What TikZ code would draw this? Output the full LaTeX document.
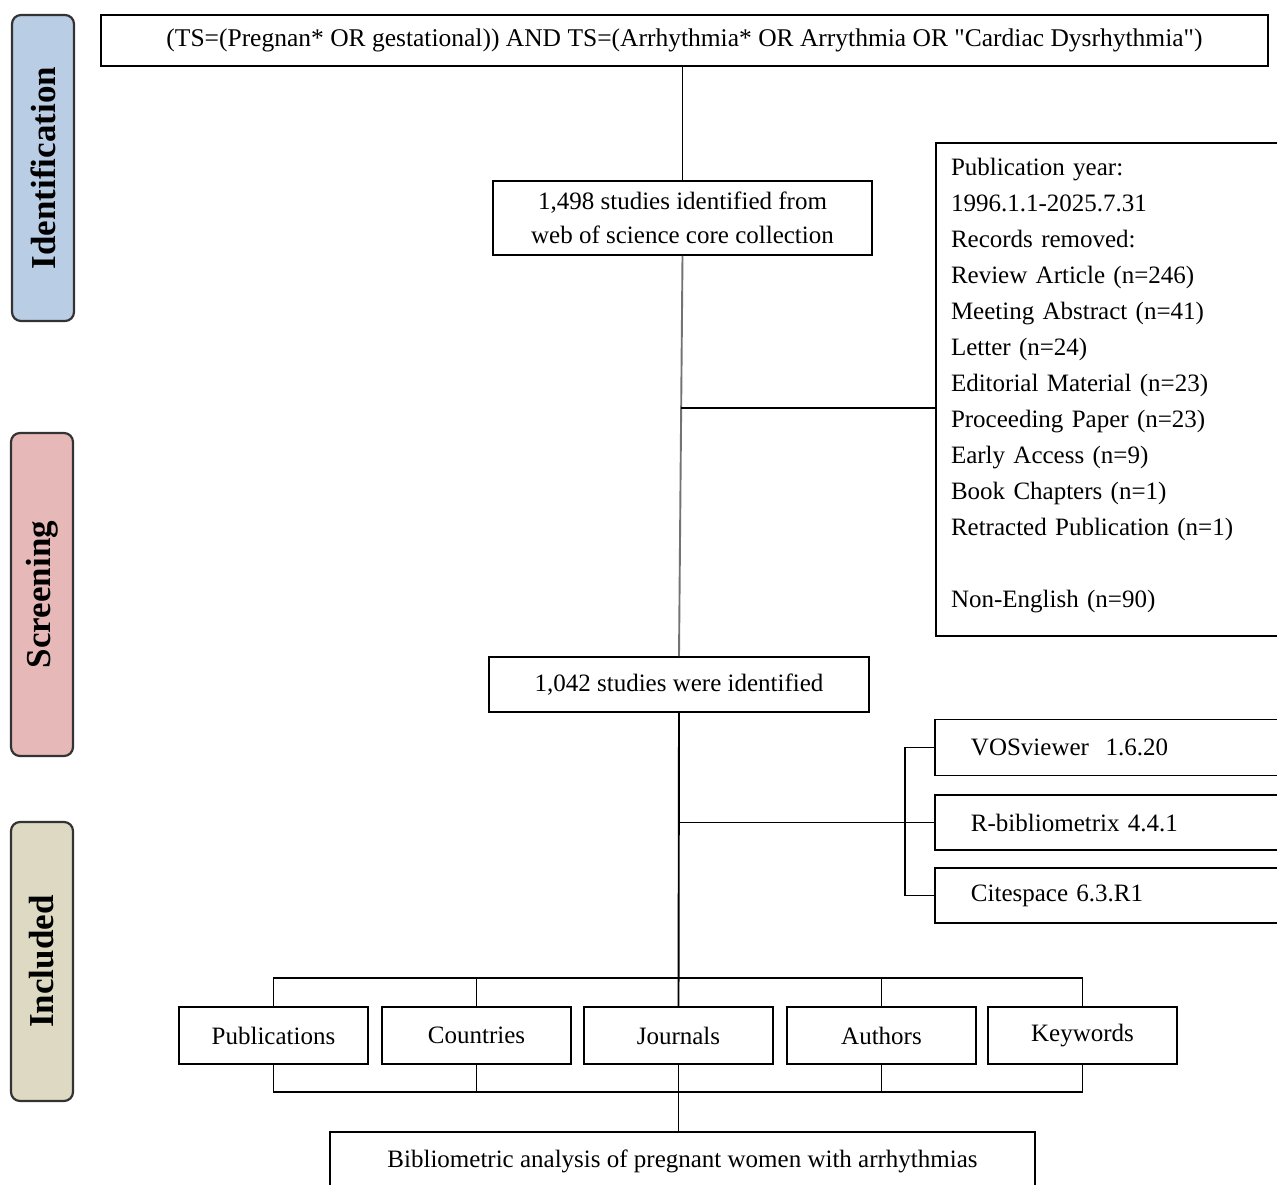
\documentclass[tikz,border=0pt]{standalone}
\usepackage{fontspec}
\setmainfont{Liberation Serif}
\definecolor{tabblue}{HTML}{B9CDE5}
\definecolor{tabpink}{HTML}{E6B9B8}
\definecolor{tabtan}{HTML}{DDD9C3}
\begin{document}
\begin{tikzpicture}[x=1pt,y=-1pt,
  box/.style={draw=black, line width=1.9pt, inner sep=0pt, font=\fontsize{25}{34}\selectfont, align=center},
  toolbox/.style={box, align=left, inner xsep=36pt, text width=284pt, minimum width=356pt, minimum height=56pt, anchor=west},
  smallbox/.style={box, minimum width=189pt, minimum height=57pt},
  tab/.style={draw=black!80, line width=2.2pt, rounded corners=9pt, rotate=90, inner sep=0pt, minimum height=62pt, font=\fontsize{35}{40}\selectfont\bfseries},
  conn/.style={line width=1.9pt, black}]
\path[use as bounding box] (0,0) rectangle (1277,1184);
\clip (0,0) rectangle (1277,1184);

% phase tabs
\node[tab, fill=tabblue, minimum width=306pt] (tabI) at (43,168) {Identification};
\node[tab, fill=tabpink, minimum width=323pt] (tabS) at (42,594.5) {Screening};
\node[tab, fill=tabtan, minimum width=279pt] (tabC) at (42,961.5) {Included};

% main flow
\node[box, minimum width=1167pt, minimum height=51pt, font=\fontsize{25.5}{34}\selectfont] (query) at (684.5,40.5)
  {(TS=(Pregnan* OR gestational)) AND TS=(Arrhythmia* OR Arrythmia OR \textquotedbl Cardiac Dysrhythmia\textquotedbl)};
\node[box, minimum width=379pt, minimum height=74pt] (ident) at (682.5,218)
  {1,498 studies identified from\\web of science core collection};
\node[box, minimum width=354pt, minimum height=493pt, align=left, inner xsep=15pt, text width=324pt,
      font=\fontsize{25}{36}\selectfont] (removed) at (1113,389.5)
  {Publication year:\\1996.1.1-2025.7.31\\Records removed:\\Review Article (n=246)\\Meeting Abstract (n=41)\\Letter (n=24)\\Editorial Material (n=23)\\Proceeding Paper (n=23)\\Early Access (n=9)\\Book Chapters (n=1)\\Retracted Publication (n=1)\\[36pt]Non-English (n=90)\rule[-13pt]{0pt}{1pt}};
\node[box, minimum width=380pt, minimum height=55pt] (kept) at (679,684.5) {1,042 studies were identified};

% tools
\node[toolbox] (vos) at (934,747.5) {VOSviewer\ \ 1.6.20};
\node[toolbox, minimum height=55pt] (rbib) at (934,822.5) {R-bibliometrix 4.4.1};
\node[toolbox, minimum height=55pt] (cite) at (934,895.5) {Citespace 6.3.R1};

% analysis boxes
\node[smallbox] (pub) at (273.5,1035.5) {Publications};
\node[smallbox] (cou) at (476.5,1035.5) {Countries};
\node[smallbox] (jou) at (678.5,1035.5) {Journals};
\node[smallbox] (aut) at (881.5,1035.5) {Authors};
\node[smallbox] (key) at (1082.5,1035.5) {Keywords};

\node[box, minimum width=705pt, minimum height=58pt] (final) at (682.5,1161)
  {Bibliometric analysis of pregnant women with arrhythmias};

% connectors
\draw[conn] (ident.north |- query.south) -- (ident.north);
\draw[conn, black!55] (ident.south) -- (kept.north);
\coordinate (br1) at (681,408);
\draw[conn] (br1) -- (br1 -| removed.west);

\coordinate (bk) at (905,822);
\draw[conn] (kept.south |- rbib.west) -- (rbib.west);
\draw[conn] (vos.west) -- (vos.west -| bk) -- (cite.west -| bk) -- (cite.west);

\coordinate (tb) at (0,978);
\coordinate (bb) at (0,1092);
\draw[conn] (kept.south) -- (jou.north);
\draw[conn] (pub.north) -- (pub.north |- tb) -- (key.north |- tb) -- (key.north);
\draw[conn] (cou.north) -- (cou.north |- tb);
\draw[conn] (aut.north) -- (aut.north |- tb);
\draw[conn] (pub.south) -- (pub.south |- bb) -- (key.south |- bb) -- (key.south);
\draw[conn] (cou.south) -- (cou.south |- bb);
\draw[conn] (aut.south) -- (aut.south |- bb);
\draw[conn] (jou.south) -- (jou.south |- final.north);
\end{tikzpicture}
\end{document}
